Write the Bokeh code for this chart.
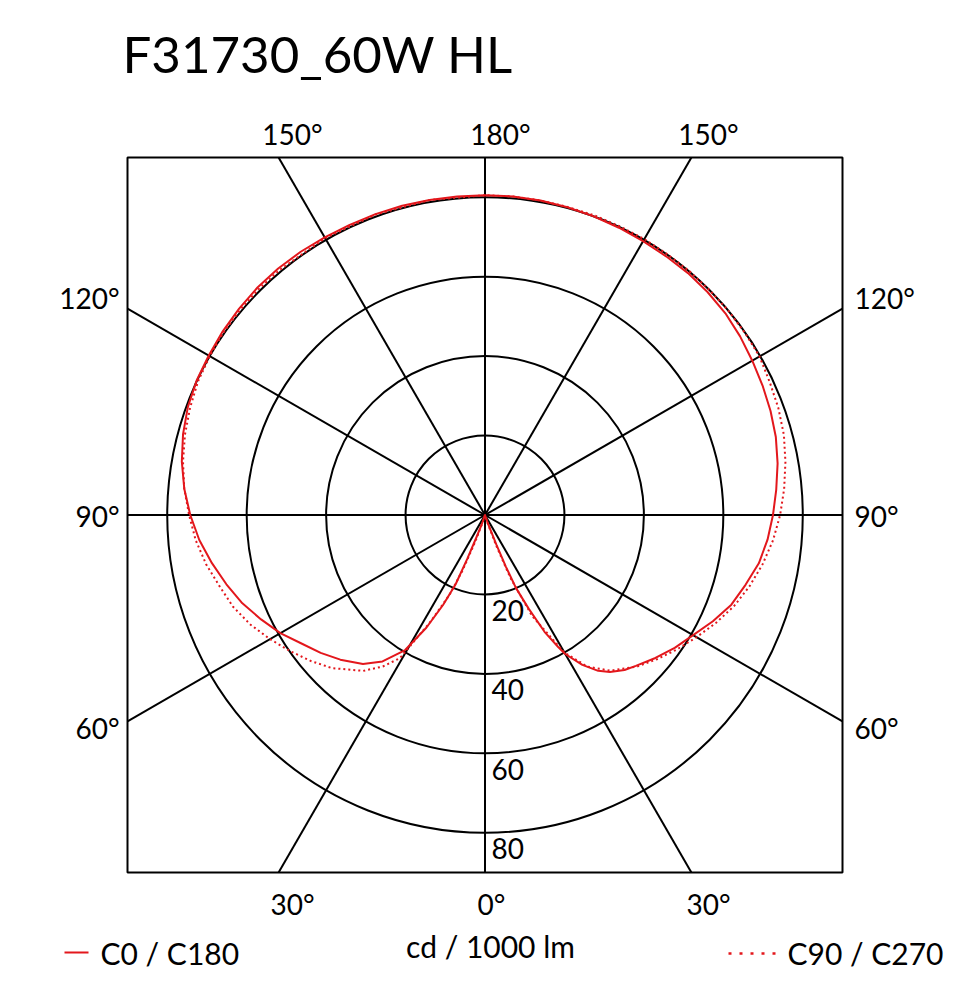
import numpy as np
from bokeh.plotting import figure
from bokeh.models import Range1d
from bokeh.core.properties import value
from bokeh.embed import file_html
from bokeh.resources import INLINE

# ---------------- data (cd / 1000 lm) ----------------
title_text = "F31730_60W HL"
unit_text = "cd / 1000 lm"
legend_solid = "C0 / C180"
legend_dotted = "C90 / C270"

ring_values = [20, 40, 60, 80]
ring_labels = ["20", "40", "60", "80"]
spoke_angles = [0, 30, 60, 90, 120, 150, 180]

# C0 half-plane (right, solid)
c0_gamma = [0, 15, 19, 21, 22, 23, 25, 27, 29, 30, 33, 36, 38.5, 42, 45, 50, 55, 60,
            65, 70, 75, 80, 85, 90, 95, 100, 105, 110, 115, 120, 125, 130, 135, 140,
            145, 150, 155, 160, 165, 170, 175, 180]
c0_cd = [0, 0, 2, 8, 14, 20, 26, 33, 38, 40.4, 45, 48.5, 50.5, 52.5, 53.7, 56, 58.3, 60.5,
         63.3, 66, 67.9, 70, 71.4, 72.5, 73.6, 74.8, 75.8, 76.5, 77.1, 77.7, 78.4, 79.0, 79.3, 79.5,
         79.5, 79.6, 79.8, 80.0, 80.2, 80.4, 80.5, 80.5]

# C180 half-plane (left, solid)
c180_gamma = [0, 15, 19, 21, 22, 23, 25, 27.5, 30.6, 35, 39.3, 45, 50, 55, 60, 65, 70, 75,
              80, 85, 90, 95, 100, 105, 110, 115, 120, 125, 130, 135, 140, 145, 150, 155,
              160, 165, 170, 175, 180]
c180_cd = [0, 0, 2, 6, 12, 19, 25, 32, 39.5, 45, 48.5, 51.5, 54, 56.4, 59.5, 62.2, 65, 67.4,
           69.8, 72.2, 74.2, 76.0, 77.5, 78.7, 79.6, 80.1, 80.3, 80.6, 80.8, 81.0, 81.0, 80.9, 80.7, 80.6,
           80.6, 80.6, 80.5, 80.5, 80.5]

# C90 half-plane (right, dotted)
c90_gamma = [0, 15, 18, 20, 22, 25, 30, 34, 38.8, 45, 50, 55, 60, 65, 70, 75, 80, 85, 90,
             95, 100, 105, 110, 115, 120, 125, 130, 135, 140, 145, 150, 155, 160, 165, 170, 175, 180]
c90_cd = [0, 0, 2, 8, 17, 28, 40, 46, 50.3, 54, 56.5, 59.0, 61.5, 64.2, 66.8, 69.0, 71.0, 72.8, 74.3,
          75.6, 76.8, 77.9, 78.6, 79.1, 79.8, 79.9, 80.0, 80.0, 80.1, 80.1, 80.2, 80.2, 80.3, 80.3,
          80.4, 80.5, 80.5]

# C270 half-plane (left, dotted)
c270_gamma = [0, 15, 18, 20, 22, 24, 27, 30.7, 34, 38, 45, 50, 55, 60, 65, 70, 75, 80, 85, 90,
              95, 100, 105, 110, 115, 120, 125, 130, 135, 140, 150, 160, 170, 180]
c270_cd = [0, 0, 2, 7, 15, 22, 30, 41.9, 46, 49.8, 54.5, 57.2, 59.8, 62.5, 65.2, 67.5, 69.2, 71.3,
           73.1, 74.5, 76.0, 77.2, 78.2, 79.0, 79.7, 80.0, 80.3, 80.4, 80.5, 80.5, 80.5, 80.5,
           80.5, 80.5]

# ---------------- layout ----------------
W, H = 964, 972
BOX = 90.0                      # half-size of the square frame (cd units)
S = 357.5 / BOX                 # px per cd unit
CX, CY = 484.5, 514.5           # centre in canvas px


def dx(px):
    return (px - CX) / S


def dy(py):
    return (CY - py) / S


RED = "#e3171c"
FONT = value("Lato")
FS = "28px"
LW = 2.0

p = figure(width=W, height=H, output_backend="svg", toolbar_location=None,
           x_range=Range1d(-CX / S, (W - CX) / S), y_range=Range1d(-(H - CY) / S, CY / S),
           x_axis_type=None, y_axis_type=None, min_border=0, outline_line_color=None)
p.background_fill_color = "white"
p.border_fill_color = "white"

# frame
p.rect(x=[0], y=[0], width=[2 * BOX], height=[2 * BOX], fill_color=None,
       line_color="black", line_width=LW)

# rings
p.circle(x=[0] * len(ring_values), y=[0] * len(ring_values), radius=ring_values,
         radius_dimension="x", fill_color=None, line_color="black", line_width=LW)

# spokes on both sides, clipped to the frame
x0s, y0s, x1s, y1s = [], [], [], []
for a in spoke_angles:
    g = np.radians(a)
    sx, sy = np.sin(g), -np.cos(g)
    L = BOX / max(abs(sx), abs(sy))
    for side in (-1, 1):
        x0s.append(0.0)
        y0s.append(0.0)
        x1s.append(side * sx * L)
        y1s.append(sy * L)
p.segment(x0=x0s, y0=y0s, x1=x1s, y1=y1s, line_color="black", line_width=LW)


def half(gam, cd, side):
    g = np.radians(np.asarray(gam, float))
    r = np.asarray(cd, float)
    return side * r * np.sin(g), -r * np.cos(g)


# solid C0 / C180
lx, ly = half(c180_gamma, c180_cd, -1)
rx, ry = half(c0_gamma, c0_cd, 1)
p.line(np.concatenate([lx[::-1], rx]), np.concatenate([ly[::-1], ry]),
       line_color=RED, line_width=2, line_join="round")

# dotted C90 / C270
lx, ly = half(c270_gamma, c270_cd, -1)
rx, ry = half(c90_gamma, c90_cd, 1)
p.line(np.concatenate([lx[::-1], rx]), np.concatenate([ly[::-1], ry]),
       line_color=RED, line_width=2, line_dash="2 3")

# ---------------- texts ----------------
p.text(x=[dx(122)], y=[dy(53)], text=[title_text], text_font=FONT, text_font_size="51px",
       text_align="left", text_baseline="middle", text_color="black")

# angle labels top / bottom
p.text(x=[dx(292), dx(500), dx(708)], y=[dy(133)] * 3, text=["150°", "180°", "150°"],
       text_font=FONT, text_font_size=FS, text_align="center", text_baseline="middle")
p.text(x=[dx(292), dx(491), dx(708)], y=[dy(903)] * 3, text=["30°", "0°", "30°"],
       text_font=FONT, text_font_size=FS, text_align="center", text_baseline="middle")
# side labels
p.text(x=[dx(119)] * 3, y=[dy(297), dy(515), dy(727)], text=["120°", "90°", "60°"],
       text_font=FONT, text_font_size=FS, text_align="right", text_baseline="middle")
p.text(x=[dx(854)] * 3, y=[dy(297), dy(515), dy(727)], text=["120°", "90°", "60°"],
       text_font=FONT, text_font_size=FS, text_align="left", text_baseline="middle")

# ring values
p.text(x=[dx(491)] * len(ring_values), y=[-v - 4.0 for v in ring_values], text=ring_labels,
       text_font=FONT, text_font_size=FS, text_align="left", text_baseline="middle")

# legend
p.segment(x0=[dx(64)], y0=[dy(952)], x1=[dx(88)], y1=[dy(952)], line_color=RED, line_width=2)
p.text(x=[dx(100)], y=[dy(952)], text=[legend_solid], text_font=FONT, text_font_size="30px",
       text_align="left", text_baseline="middle")
p.text(x=[dx(490)], y=[dy(945)], text=[unit_text], text_font=FONT, text_font_size="30px",
       text_align="center", text_baseline="middle")
p.segment(x0=[dx(728)], y0=[dy(953)], x1=[dx(782)], y1=[dy(953)], line_color=RED, line_width=2.5,
          line_dash="3 8")
p.text(x=[dx(943)], y=[dy(952)], text=[legend_dotted], text_font=FONT, text_font_size="30px",
       text_align="right", text_baseline="middle")

open("out.html", "w").write(file_html(p, INLINE))
